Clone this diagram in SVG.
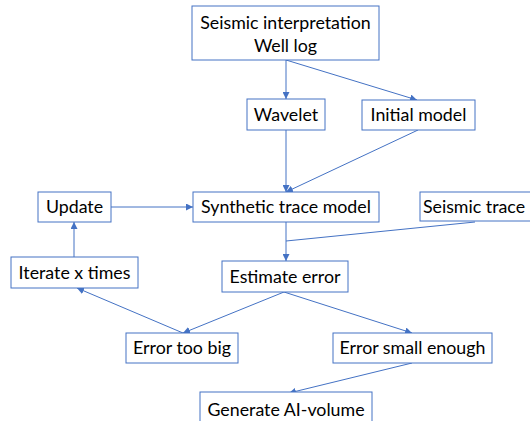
<svg xmlns="http://www.w3.org/2000/svg" width="530" height="421" viewBox="0 0 530 421">
<defs>
<marker id="arr" viewBox="0 0 10 10" refX="10" refY="5" markerWidth="7" markerHeight="7" markerUnits="userSpaceOnUse" orient="auto">
<path d="M0,0 L10,5 L0,10 z" fill="#4472C4"/>
</marker>
<style>
.box{fill:#fff;stroke:#4472C4;stroke-width:1}
.t{font-family:Lato,"Open Sans","Liberation Sans",sans-serif;font-size:17.8px;fill:#000;text-anchor:middle}
.c{stroke:#4472C4;stroke-width:1;fill:none}
.a{marker-end:url(#arr)}
</style>
</defs>
<rect width="530" height="421" fill="#fff"/>
<g id="connectors">
<line class="c a" x1="286" y1="60" x2="286" y2="99"/>
<line class="c a" x1="286" y1="60" x2="417" y2="100"/>
<line class="c a" x1="286" y1="130" x2="286" y2="192"/>
<line class="c a" x1="418" y1="130" x2="286" y2="192"/>
<line class="c a" x1="111" y1="207" x2="193" y2="207"/>
<line class="c a" x1="286" y1="222" x2="286" y2="261"/>
<line class="c" x1="475" y1="222" x2="286" y2="241"/>
<line class="c a" x1="284" y1="292" x2="183" y2="333"/>
<line class="c a" x1="284" y1="292" x2="412" y2="333"/>
<line class="c a" x1="183" y1="333" x2="77" y2="288"/>
<line class="c a" x1="74" y1="257" x2="74" y2="222"/>
<line class="c a" x1="412" y1="363" x2="289" y2="393"/>
</g>
<g id="seismic-interpretation">
<rect class="box" x="192" y="6" width="187" height="54"/>
<text class="t" x="285.5" y="29">Seismic interpretation</text>
<text class="t" x="285.5" y="52">Well log</text>
</g>
<g id="wavelet">
<rect class="box" x="247" y="99" width="78" height="31"/>
<text class="t" x="286" y="121">Wavelet</text>
</g>
<g id="initial-model">
<rect class="box" x="362" y="100" width="113" height="30"/>
<text class="t" x="418.5" y="121">Initial model</text>
</g>
<g id="update">
<rect class="box" x="38" y="192" width="73" height="30"/>
<text class="t" x="74.5" y="213">Update</text>
</g>
<g id="synthetic-trace-model">
<rect class="box" x="193" y="192" width="186" height="30"/>
<text class="t" x="286" y="213">Synthetic trace model</text>
</g>
<g id="seismic-trace">
<rect class="box" x="420" y="192" width="115" height="29"/>
<text class="t" x="474" y="213">Seismic trace</text>
</g>
<g id="iterate">
<rect class="box" x="11" y="257" width="127" height="31"/>
<text class="t" x="74.5" y="279">Iterate x times</text>
</g>
<g id="estimate-error">
<rect class="box" x="222" y="261" width="126" height="31"/>
<text class="t" x="285" y="283">Estimate error</text>
</g>
<g id="error-too-big">
<rect class="box" x="126" y="333" width="112" height="30"/>
<text class="t" x="182" y="354">Error too big</text>
</g>
<g id="error-small-enough">
<rect class="box" x="333" y="333" width="159" height="30"/>
<text class="t" x="412.5" y="354">Error small enough</text>
</g>
<g id="generate-ai-volume">
<rect class="box" x="200" y="392" width="172" height="40"/>
<text class="t" x="286" y="416">Generate AI-volume</text>
</g>
</svg>
